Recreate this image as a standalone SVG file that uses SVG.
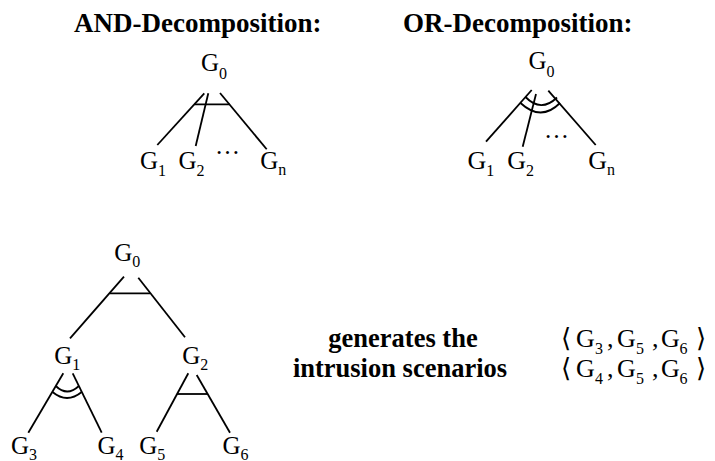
<svg xmlns="http://www.w3.org/2000/svg" width="715" height="461" viewBox="0 0 715 461">
<style>
  .hdr { font-family: "Liberation Serif", "Times New Roman", serif; font-weight: bold; font-size: 27px; fill: #000; }
  .bold { font-family: "Liberation Serif", "Times New Roman", serif; font-weight: bold; font-size: 26.5px; fill: #000; }
  .g { font-family: "Liberation Serif", "Times New Roman", serif; font-size: 25px; fill: #000; }
  .gb { font-family: "Liberation Serif", "Times New Roman", serif; font-size: 26px; fill: #000; }
  .sub { font-size: 16px; }
  .ln { stroke: #000; stroke-width: 1.8; fill: none; stroke-linecap: butt; }
  .br { font-family: "Liberation Serif", "DejaVu Serif", serif; font-size: 26px; fill: #000; }
</style>
<rect width="715" height="461" fill="#fff"/>

<text class="hdr" x="74" y="32">AND-Decomposition:</text>
<text class="hdr" x="403" y="32">OR-Decomposition:</text>

<g id="connectors">
  <!-- AND top -->
  <line class="ln" x1="204.3" y1="93.3" x2="157.3" y2="145"/>
  <line class="ln" x1="208.3" y1="93.3" x2="195.7" y2="146"/>
  <line class="ln" x1="220" y1="93" x2="266.7" y2="149.3"/>
  <line class="ln" x1="194.3" y1="104.3" x2="229.7" y2="104.3"/>
  <!-- OR top -->
  <line class="ln" x1="531.7" y1="90" x2="486" y2="141.7"/>
  <line class="ln" x1="536" y1="94" x2="522.7" y2="146.7"/>
  <line class="ln" x1="548.3" y1="90.7" x2="595.7" y2="145"/>
  <path class="ln" d="M525.5,97 Q541,113 557,97.5"/>
  <path class="ln" d="M520.5,103 Q541,122 560,103"/>
  <!-- bottom tree -->
  <line class="ln" x1="124" y1="276.7" x2="70" y2="338.3"/>
  <line class="ln" x1="138.3" y1="277.7" x2="185" y2="337.3"/>
  <line class="ln" x1="110" y1="293.3" x2="150" y2="293.3"/>
  <line class="ln" x1="63.3" y1="373.3" x2="28.3" y2="432.7"/>
  <line class="ln" x1="72.7" y1="373.3" x2="101.7" y2="432.7"/>
  <path class="ln" d="M55.8,386 Q67,397 78.9,386"/>
  <path class="ln" d="M52.5,392 Q67,404 81.7,392"/>
  <line class="ln" x1="188.3" y1="373.3" x2="156.7" y2="431.7"/>
  <line class="ln" x1="196.7" y1="375" x2="230" y2="432.7"/>
  <line class="ln" x1="177.1" y1="394" x2="207.7" y2="394"/>
</g>

<!-- AND top nodes -->
<g id="and-g0"><text class="g" x="201" y="71">G<tspan class="sub" dy="8">0</tspan></text></g>
<g id="and-g1"><text class="g" x="140" y="169">G<tspan class="sub" dy="7">1</tspan></text></g>
<g id="and-g2"><text class="g" x="178.5" y="169">G<tspan class="sub" dy="7">2</tspan></text></g>
<g id="and-dots"><text class="g" x="215" y="154">…</text></g>
<g id="and-gn"><text class="g" x="260.3" y="169">G<tspan class="sub" dy="6">n</tspan></text></g>

<!-- OR top nodes -->
<g id="or-g0"><text class="g" x="528.5" y="69.3">G<tspan class="sub" dy="8">0</tspan></text></g>
<g id="or-g1"><text class="gb" x="467.5" y="169">G<tspan class="sub" dy="7">1</tspan></text></g>
<g id="or-g2"><text class="gb" x="507.3" y="169">G<tspan class="sub" dy="7">2</tspan></text></g>
<g id="or-dots"><text class="g" x="544" y="138">…</text></g>
<g id="or-gn"><text class="gb" x="588.3" y="169">G<tspan class="sub" dy="6" font-size="18">n</tspan></text></g>

<!-- bottom tree nodes -->
<g id="t-g0"><text class="g" x="114.2" y="260.7">G<tspan class="sub" dy="6">0</tspan></text></g>
<g id="t-g1"><text class="g" x="54.2" y="364">G<tspan class="sub" dy="6">1</tspan></text></g>
<g id="t-g2"><text class="g" x="182.2" y="364">G<tspan class="sub" dy="6">2</tspan></text></g>
<g id="t-g3"><text class="g" x="10.9" y="454">G<tspan class="sub" dy="5.5">3</tspan></text></g>
<g id="t-g4"><text class="g" x="97.5" y="454">G<tspan class="sub" dy="5.5">4</tspan></text></g>
<g id="t-g5"><text class="g" x="139.2" y="454">G<tspan class="sub" dy="5.5">5</tspan></text></g>
<g id="t-g6"><text class="g" x="222.5" y="454">G<tspan class="sub" dy="5.5">6</tspan></text></g>

<!-- description -->
<g id="desc">
  <text class="bold" x="403" y="346.5" text-anchor="middle">generates the</text>
  <text class="bold" x="400" y="376.5" text-anchor="middle">intrusion scenarios</text>
</g>

<g id="scenario1">
  <text class="br" x="561" y="346.7">⟨</text>
  <text class="gb" x="576" y="346.7">G<tspan class="sub" x="595" dy="7">3</tspan><tspan x="607" dy="-7">,</tspan><tspan x="617">G</tspan><tspan class="sub" x="636" dy="7">5</tspan><tspan x="652" dy="-7">,</tspan><tspan x="661">G</tspan><tspan class="sub" x="679.5" dy="7">6</tspan></text>
  <text class="br" x="696" y="346.7">⟩</text>
</g>
<g id="scenario2">
  <text class="br" x="561" y="376.7">⟨</text>
  <text class="gb" x="576" y="376.7">G<tspan class="sub" x="595" dy="7">4</tspan><tspan x="607" dy="-7">,</tspan><tspan x="617">G</tspan><tspan class="sub" x="636" dy="7">5</tspan><tspan x="652" dy="-7">,</tspan><tspan x="661">G</tspan><tspan class="sub" x="679.5" dy="7">6</tspan></text>
  <text class="br" x="696" y="376.7">⟩</text>
</g>
</svg>
